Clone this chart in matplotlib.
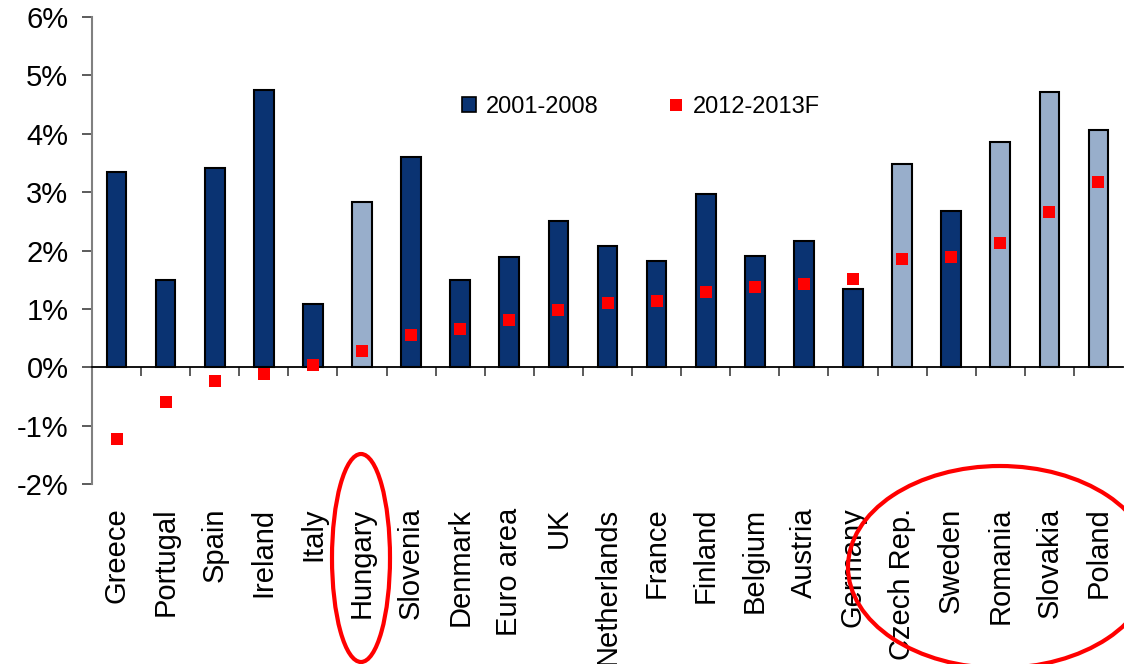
import numpy as np
import matplotlib
matplotlib.use("Agg")
import matplotlib.pyplot as plt
from matplotlib.patches import Ellipse, Patch
from matplotlib.lines import Line2D
from matplotlib.ticker import FuncFormatter, FixedLocator

plt.rcParams['font.family'] = ['Liberation Sans', 'DejaVu Sans']

# data
countries = ['Greece', 'Portugal', 'Spain', 'Ireland', 'Italy', 'Hungary',
             'Slovenia', 'Denmark', 'Euro area', 'UK', 'Netherlands', 'France',
             'Finland', 'Belgium', 'Austria', 'Germany', 'Czech Rep.', 'Sweden',
             'Romania', 'Slovakia', 'Poland']
growth_2001_2008 = [3.34, 1.49, 3.41, 4.75, 1.08, 2.83, 3.60, 1.49, 1.89, 2.50,
                    2.08, 1.82, 2.97, 1.90, 2.16, 1.34, 3.48, 2.68, 3.86, 4.72, 4.07]
growth_2012_2013F = [-1.23, -0.60, -0.24, -0.12, 0.03, 0.27, 0.55, 0.65, 0.81, 0.98,
                     1.10, 1.13, 1.29, 1.37, 1.42, 1.51, 1.85, 1.89, 2.13, 2.66, 3.17]
non_euro = ['Hungary', 'Czech Rep.', 'Romania', 'Slovakia', 'Poland']

dark = '#0A3372'
light = '#98AECB'

fig = plt.figure(figsize=(11.24, 6.64), dpi=100)
ax = fig.add_axes([92 / 1124, 1 - 484 / 664, 1031 / 1124, 467 / 664])

x = np.arange(len(countries))
colors = [light if c in non_euro else dark for c in countries]
ax.bar(x, growth_2001_2008, width=0.4, color=colors, edgecolor='black', linewidth=1.5, zorder=2)
ax.plot(x, growth_2012_2013F, linestyle='none', marker='s', markersize=8.5,
        color='#FF0000', markeredgewidth=0, zorder=3)

ax.set_xlim(-0.5, len(countries) - 0.5)
ax.set_ylim(-2, 6)
ax.set_yticks(np.arange(-2, 7, 1))
ax.yaxis.set_major_formatter(FuncFormatter(lambda v, p: f'{v:.0f}%'))
ax.tick_params(axis='y', direction='out', length=7, width=1.2, color='#404040',
               labelsize=21, pad=10)

for s in ['top', 'right']:
    ax.spines[s].set_visible(False)
ax.spines['left'].set_color('#808080')
ax.spines['left'].set_linewidth(1.5)
ax.spines['bottom'].set_position(('data', 0))
ax.spines['bottom'].set_color('black')
ax.spines['bottom'].set_linewidth(1.3)

ax.set_xticks(x)
ax.set_xticklabels(countries, rotation=90, va='top', ha='center', fontsize=21)
ax.xaxis.set_minor_locator(FixedLocator(x[1:] - 0.5))
ax.tick_params(axis='x', which='major', length=0, pad=101)
ax.tick_params(axis='x', which='minor', direction='out', length=6.5, width=1.2, color='#404040')

handles = [Patch(facecolor=dark, edgecolor='black', linewidth=1.2, label='2001-2008'),
           Line2D([], [], linestyle='none', marker='s', markersize=8, color='#FF0000',
                  markeredgewidth=0, label='2012-2013F')]
fig.legend(handles=handles, loc='center', bbox_to_anchor=(641 / 1124, 1 - 107 / 664),
           ncol=2, frameon=False, fontsize=17, handlelength=0.6, handleheight=0.6,
           handletextpad=0.4, columnspacing=3.0)

# red highlight circles
fig.patches.append(Ellipse((361 / 1124, 1 - 558 / 664), 58 / 1124, 208 / 664,
                           transform=fig.transFigure, fill=False, edgecolor='#FF0000',
                           linewidth=3))
fig.patches.append(Ellipse((1000 / 1124, 1 - 567 / 664), 304 / 1124, 202 / 664,
                           transform=fig.transFigure, fill=False, edgecolor='#FF0000',
                           linewidth=3))

fig.savefig('out.png', dpi=100)
